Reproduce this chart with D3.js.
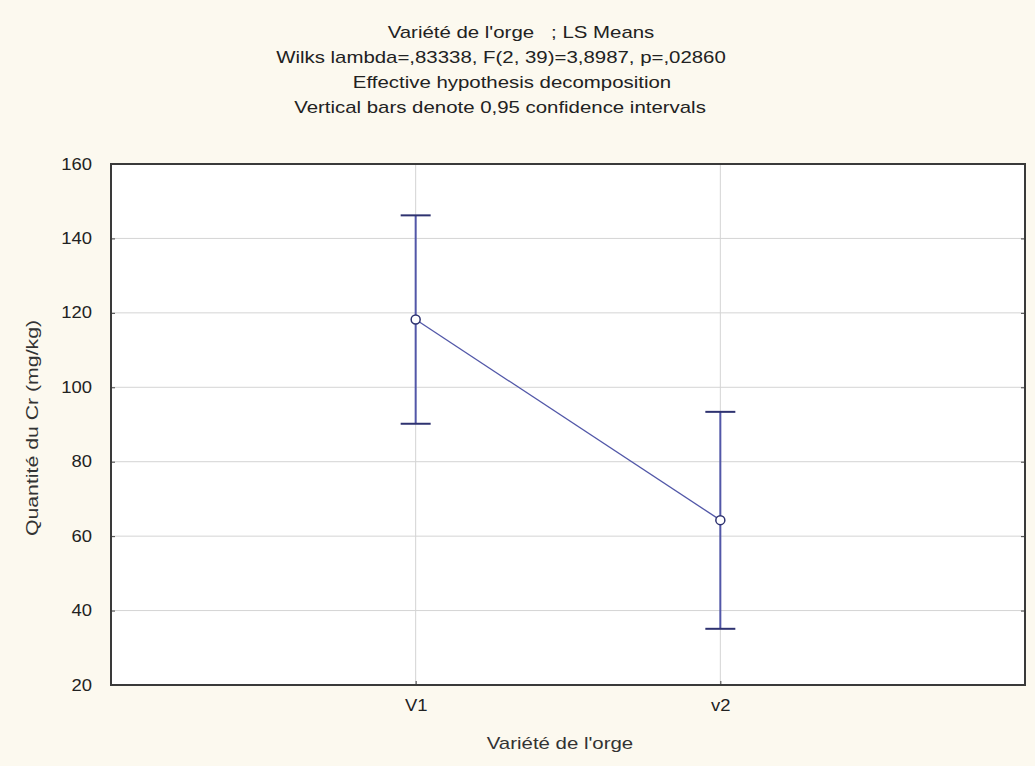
<!DOCTYPE html>
<meta charset="utf-8">
<style>
body { margin: 0; background: #fcf9ef; }
.axis text { font: 16px "Liberation Sans", Arial, sans-serif; fill: #222; }
.title { font: 17px "Liberation Sans", Arial, sans-serif; fill: #222; }
.label { font: 17px "Liberation Sans", Arial, sans-serif; fill: #333; }
</style>
<svg width="1035" height="766"></svg>
<script src="https://d3js.org/d3.v7.min.js"></script>
<script>

// data
var categories = ["V1", "v2"];
var means = [118.2, 64.3];
var upper = [146.2, 93.4];
var lower = [90.2, 35.1];
var yTicks = [20, 40, 60, 80, 100, 120, 140, 160];
var titleLines = [
  "Variété de l'orge   ; LS Means",
  "Wilks lambda=,83338, F(2, 39)=3,8987, p=,02860",
  "Effective hypothesis decomposition",
  "Vertical bars denote 0,95 confidence intervals"
];

var svg = d3.select("svg"),
    margin = {top: 164, right: 10, bottom: 81, left: 111},
    width = 1035 - margin.left - margin.right,
    height = 766 - margin.top - margin.bottom,
    g = svg.append("g").attr("transform", "translate(" + margin.left + "," + margin.top + ")");

var blue = "#5257a8",
    navy = "#2e3270";

// title lines are not quite centred on the same x in the original
var titleX = [521, 501, 512, 500];

// the original text is a bit wider than Liberation Sans, stretch it
function stretch(sel, k) {
  sel.each(function() {
    var len = this.getComputedTextLength();
    d3.select(this).attr("textLength", len * k).attr("lengthAdjust", "spacingAndGlyphs");
  });
}

var x = d3.scalePoint().domain(categories).range([0, width]).padding(1);
var y = d3.scaleLinear().domain([20, 160]).range([height, 0]);

// white plot area
g.append("rect").attr("width", width).attr("height", height).attr("fill", "#fff");

// grid
g.append("g").selectAll("line")
  .data(yTicks.slice(1, -1))
  .enter().append("line")
    .attr("x1", 0).attr("x2", width)
    .attr("y1", d => y(d)).attr("y2", d => y(d))
    .attr("stroke", "#d4d4d4");
g.append("g").selectAll("line")
  .data(categories)
  .enter().append("line")
    .attr("x1", d => x(d)).attr("x2", d => x(d))
    .attr("y1", 0).attr("y2", height)
    .attr("stroke", "#d4d4d4");

// axes
g.append("g").attr("class", "axis")
  .call(d3.axisLeft(y).tickValues(yTicks).tickSize(-4).tickPadding(19))
  .call(s => s.select(".domain").remove())
  .selectAll("text").call(stretch, 1.15);
g.append("g").attr("class", "axis")
  .attr("transform", "translate(" + width + ",0)")
  .call(d3.axisRight(y).tickValues(yTicks).tickSize(-4).tickFormat(""))
  .call(s => s.select(".domain").remove());
g.append("g").attr("class", "axis")
  .attr("transform", "translate(0," + height + ")")
  .call(d3.axisBottom(x).tickSize(-4).tickPadding(15))
  .call(s => s.select(".domain").remove())
  .selectAll("text").call(stretch, 1.15);
g.selectAll(".axis line").attr("stroke", "#444");

// frame
g.append("rect").attr("width", width).attr("height", height)
  .attr("fill", "none").attr("stroke", "#3a3a3a").attr("stroke-width", 2);

// mean line
g.append("path")
  .datum(categories)
  .attr("fill", "none").attr("stroke", blue).attr("stroke-width", 1.3)
  .attr("d", d3.line().x(d => x(d)).y((d, i) => y(means[i])));

// error bars
var eb = g.append("g").selectAll("g").data(categories).enter().append("g");
eb.append("line")
  .attr("x1", d => x(d)).attr("x2", d => x(d))
  .attr("y1", (d, i) => y(upper[i])).attr("y2", (d, i) => y(lower[i]))
  .attr("stroke", blue).attr("stroke-width", 2);
eb.append("line")
  .attr("x1", d => x(d) - 15).attr("x2", d => x(d) + 15)
  .attr("y1", (d, i) => y(upper[i])).attr("y2", (d, i) => y(upper[i]))
  .attr("stroke", navy).attr("stroke-width", 2);
eb.append("line")
  .attr("x1", d => x(d) - 15).attr("x2", d => x(d) + 15)
  .attr("y1", (d, i) => y(lower[i])).attr("y2", (d, i) => y(lower[i]))
  .attr("stroke", navy).attr("stroke-width", 2);
eb.append("circle")
  .attr("cx", d => x(d)).attr("cy", (d, i) => y(means[i]))
  .attr("r", 4.5).attr("fill", "#fff").attr("stroke", navy).attr("stroke-width", 1.5);

// titles
svg.append("g").selectAll("text")
  .data(titleLines)
  .enter().append("text")
    .attr("class", "title")
    .attr("x", (d, i) => titleX[i]).attr("y", (d, i) => 38 + i * 25)
    .attr("text-anchor", "middle")
    .style("white-space", "pre")
    .text(d => d)
    .call(stretch, 1.2);

svg.append("text").attr("class", "label")
  .attr("text-anchor", "middle")
  .attr("transform", "translate(38,428) rotate(-90)")
  .text("Quantité du Cr (mg/kg)")
  .call(stretch, 1.25);
svg.append("text").attr("class", "label")
  .attr("text-anchor", "middle")
  .attr("x", 560).attr("y", 749)
  .text("Variété de l'orge")
  .call(stretch, 1.2);

</script>
